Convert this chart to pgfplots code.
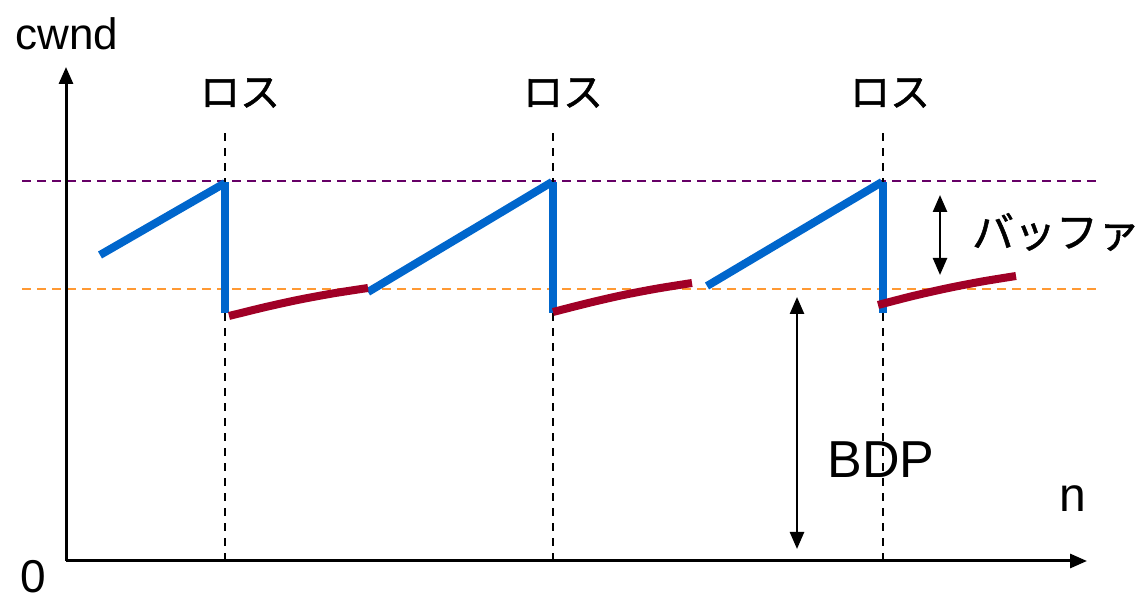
\documentclass[border=0pt]{standalone}
\usepackage{pgfplots}
\pgfplotsset{compat=1.18}
\usepackage{fontspec}
\setmainfont{Liberation Sans}
\newfontfamily\jp[FakeBold=1.2]{Noto Sans CJK JP}
\usetikzlibrary{arrows.meta}
\definecolor{cblue}{HTML}{0066CC}
\definecolor{cred}{HTML}{A00026}
\definecolor{cpurple}{HTML}{660066}
\definecolor{corange}{HTML}{FF9933}
\begin{document}
\begin{tikzpicture}
\begin{axis}[
  x=1pt, y=1pt,
  xmin=-66, xmax=1081, ymin=-40, ymax=561,
  hide axis, clip=false,
]
\addplot[draw=none] coordinates {(-66,-40) (1081,561)};
% reference levels
\addplot[cpurple, line width=1.6pt, dash pattern=on 9pt off 6pt] coordinates {(-44,380) (1031,380)};
\addplot[corange, line width=1.6pt, dash pattern=on 9pt off 6pt] coordinates {(-44,272) (1031,272)};
% loss lines
\addplot[black, line width=1.6pt, dash pattern=on 8pt off 7pt] coordinates {(159,0) (159,431)};
\addplot[black, line width=1.6pt, dash pattern=on 8pt off 7pt] coordinates {(487,0) (487,431)};
\addplot[black, line width=1.6pt, dash pattern=on 8pt off 7pt] coordinates {(817,0) (817,431)};
% axes
\addplot[black, line width=3pt, -{Triangle[width=14pt,length=17pt]}] coordinates {(0,0) (0,494)};
\addplot[black, line width=3pt, -{Triangle[width=14pt,length=17pt]}] coordinates {(0,0) (1021,0)};
% blue ramps
\addplot[cblue, line width=8pt] coordinates {(34,306) (159,378)};
\addplot[cblue, line width=8pt] coordinates {(159,379) (159,248)};
\addplot[cblue, line width=8pt] coordinates {(302,269) (486,379)};
\addplot[cblue, line width=8pt] coordinates {(487,379) (487,248)};
\addplot[cblue, line width=8pt] coordinates {(641,275) (816,379)};
\addplot[cblue, line width=8pt] coordinates {(817,379) (817,248)};
% red curves
\addplot[cred, line width=8pt, smooth] coordinates {(163,245) (198,253.6) (232,261.1) (267,267.6) (302,273)};
\addplot[cred, line width=8pt, smooth] coordinates {(487,249) (522,257.9) (556,265.7) (591,272.4) (626,278)};
\addplot[cred, line width=8pt, smooth] coordinates {(812,256) (846.5,264.9) (881,272.7) (915.5,279.4) (950,285)};
% arrows
\addplot[black, line width=2.5pt, {Triangle[width=14pt,length=17pt]}-{Triangle[width=14pt,length=17pt]}] coordinates {(731,264) (731,12)};
\addplot[black, line width=2.5pt, {Triangle[width=14pt,length=17pt]}-{Triangle[width=14pt,length=17pt]}] coordinates {(874,366) (874,286)};
% texts
\node[font=\fontsize{44}{50}\selectfont] at (axis cs:1,527) {cwnd};
\node[font=\fontsize{46}{52}\selectfont] at (axis cs:-33,-16) {0};
\node[font=\fontsize{48}{54}\selectfont] at (axis cs:1007,62) {n};
\node[font=\fontsize{52}{60}\selectfont] at (axis cs:815,101) {BDP};
\node[font=\jp\fontsize{40}{48}\selectfont] at (axis cs:174,468) {ロス};
\node[font=\jp\fontsize{40}{48}\selectfont] at (axis cs:497,468) {ロス};
\node[font=\jp\fontsize{40}{48}\selectfont] at (axis cs:824,468) {ロス};
\node[font=\jp\fontsize{42}{48}\selectfont] at (axis cs:990,329) {バッファ};
\end{axis}
\end{tikzpicture}
\end{document}
